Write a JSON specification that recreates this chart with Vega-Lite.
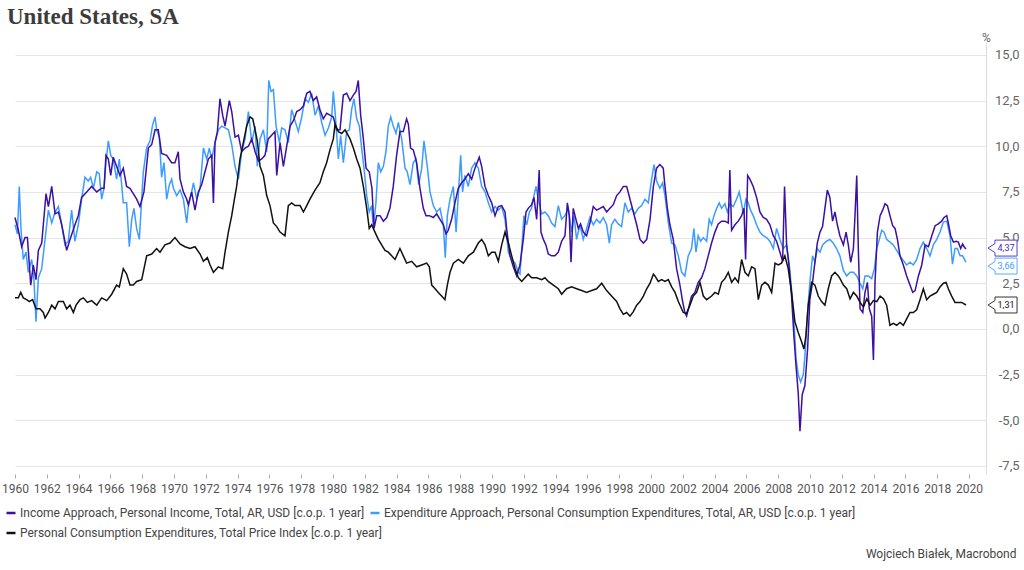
{
"$schema":"https://vega.github.io/schema/vega-lite/v6.json",
"width":971,"height":431,"autosize":"none",
"padding":{"left":15,"top":43,"right":38,"bottom":96},
"background":"white",
"config":{"locale":{"number":{"decimal":",","thousands":" ","grouping":[3],"currency":["",""],"minus":"-"}},"view":{"stroke":null},"font":"Roboto"},
"title":{"text":"United States, SA","anchor":"start","frame":"group","font":"Liberation Serif","fontSize":23,"fontWeight":"bold","color":"#3c3c3c","dx":-8,"dy":20,"offset":4,"baseline":"alphabetic"},
"datasets":{"d":[
{"s":"a","t":1960.00,"v":6.1},{"s":"a","t":1960.21,"v":5.4},{"s":"a","t":1960.42,"v":4.5},{"s":"a","t":1960.63,"v":5.0},{"s":"a","t":1960.78,"v":5.0},{"s":"a","t":1960.99,"v":2.4},{"s":"a","t":1961.15,"v":3.5},{"s":"a","t":1961.32,"v":2.7},{"s":"a","t":1961.47,"v":4.3},{"s":"a","t":1961.68,"v":4.7},{"s":"a","t":1961.95,"v":7.4},{"s":"a","t":1962.10,"v":6.7},{"s":"a","t":1962.31,"v":7.8},{"s":"a","t":1962.52,"v":6.3},{"s":"a","t":1962.73,"v":6.4},{"s":"a","t":1962.94,"v":5.7},{"s":"a","t":1963.25,"v":4.3},{"s":"a","t":1963.46,"v":4.9},{"s":"a","t":1963.77,"v":5.7},{"s":"a","t":1963.98,"v":6.2},{"s":"a","t":1964.19,"v":7.2},{"s":"a","t":1964.51,"v":7.5},{"s":"a","t":1964.82,"v":7.8},{"s":"a","t":1965.14,"v":7.5},{"s":"a","t":1965.45,"v":7.7},{"s":"a","t":1965.60,"v":7.7},{"s":"a","t":1965.72,"v":9.5},{"s":"a","t":1965.87,"v":9.3},{"s":"a","t":1966.02,"v":8.4},{"s":"a","t":1966.18,"v":9.4},{"s":"a","t":1966.39,"v":8.9},{"s":"a","t":1966.60,"v":8.4},{"s":"a","t":1966.81,"v":8.8},{"s":"a","t":1967.02,"v":7.8},{"s":"a","t":1967.23,"v":7.7},{"s":"a","t":1967.44,"v":7.4},{"s":"a","t":1967.65,"v":7.1},{"s":"a","t":1967.86,"v":6.7},{"s":"a","t":1968.11,"v":7.5},{"s":"a","t":1968.39,"v":9.9},{"s":"a","t":1968.60,"v":10.1},{"s":"a","t":1968.81,"v":10.9},{"s":"a","t":1969.01,"v":10.9},{"s":"a","t":1969.22,"v":9.6},{"s":"a","t":1969.54,"v":9.5},{"s":"a","t":1969.85,"v":9.1},{"s":"a","t":1970.06,"v":9.1},{"s":"a","t":1970.27,"v":9.7},{"s":"a","t":1970.38,"v":8.2},{"s":"a","t":1970.59,"v":7.5},{"s":"a","t":1970.80,"v":7.1},{"s":"a","t":1970.90,"v":6.8},{"s":"a","t":1971.11,"v":7.5},{"s":"a","t":1971.32,"v":6.5},{"s":"a","t":1971.53,"v":7.5},{"s":"a","t":1971.74,"v":7.9},{"s":"a","t":1971.95,"v":8.6},{"s":"a","t":1972.16,"v":9.3},{"s":"a","t":1972.37,"v":9.5},{"s":"a","t":1972.48,"v":6.9},{"s":"a","t":1972.58,"v":10.2},{"s":"a","t":1972.73,"v":10.8},{"s":"a","t":1972.89,"v":12.6},{"s":"a","t":1973.06,"v":11.7},{"s":"a","t":1973.21,"v":11.1},{"s":"a","t":1973.48,"v":12.5},{"s":"a","t":1973.63,"v":11.9},{"s":"a","t":1973.84,"v":10.5},{"s":"a","t":1974.05,"v":10.6},{"s":"a","t":1974.26,"v":9.7},{"s":"a","t":1974.47,"v":9.9},{"s":"a","t":1974.68,"v":10.0},{"s":"a","t":1974.89,"v":10.4},{"s":"a","t":1975.10,"v":9.7},{"s":"a","t":1975.31,"v":9.2},{"s":"a","t":1975.52,"v":9.3},{"s":"a","t":1975.72,"v":9.5},{"s":"a","t":1975.93,"v":10.4},{"s":"a","t":1976.14,"v":10.6},{"s":"a","t":1976.35,"v":10.8},{"s":"a","t":1976.46,"v":8.4},{"s":"a","t":1976.67,"v":10.2},{"s":"a","t":1976.88,"v":8.9},{"s":"a","t":1977.09,"v":10.0},{"s":"a","t":1977.30,"v":11.1},{"s":"a","t":1977.51,"v":11.4},{"s":"a","t":1977.72,"v":11.9},{"s":"a","t":1977.93,"v":12.0},{"s":"a","t":1978.14,"v":12.2},{"s":"a","t":1978.35,"v":12.9},{"s":"a","t":1978.55,"v":13.0},{"s":"a","t":1978.76,"v":12.5},{"s":"a","t":1978.97,"v":12.7},{"s":"a","t":1979.18,"v":12.0},{"s":"a","t":1979.39,"v":11.5},{"s":"a","t":1979.60,"v":11.8},{"s":"a","t":1979.81,"v":11.7},{"s":"a","t":1980.02,"v":11.6},{"s":"a","t":1980.23,"v":10.9},{"s":"a","t":1980.44,"v":10.9},{"s":"a","t":1980.65,"v":12.8},{"s":"a","t":1980.86,"v":12.9},{"s":"a","t":1981.07,"v":12.5},{"s":"a","t":1981.28,"v":12.8},{"s":"a","t":1981.45,"v":13.0},{"s":"a","t":1981.59,"v":13.6},{"s":"a","t":1981.74,"v":11.7},{"s":"a","t":1981.91,"v":10.4},{"s":"a","t":1982.08,"v":8.8},{"s":"a","t":1982.28,"v":8.6},{"s":"a","t":1982.45,"v":7.7},{"s":"a","t":1982.58,"v":5.5},{"s":"a","t":1982.75,"v":6.2},{"s":"a","t":1982.96,"v":6.2},{"s":"a","t":1983.17,"v":5.9},{"s":"a","t":1983.38,"v":6.1},{"s":"a","t":1983.58,"v":6.6},{"s":"a","t":1983.79,"v":7.8},{"s":"a","t":1984.00,"v":9.5},{"s":"a","t":1984.21,"v":10.8},{"s":"a","t":1984.42,"v":10.8},{"s":"a","t":1984.63,"v":11.5},{"s":"a","t":1984.74,"v":11.2},{"s":"a","t":1984.88,"v":9.9},{"s":"a","t":1985.05,"v":9.8},{"s":"a","t":1985.26,"v":9.1},{"s":"a","t":1985.47,"v":7.7},{"s":"a","t":1985.68,"v":6.6},{"s":"a","t":1985.85,"v":6.2},{"s":"a","t":1986.06,"v":6.2},{"s":"a","t":1986.31,"v":6.1},{"s":"a","t":1986.52,"v":6.3},{"s":"a","t":1986.73,"v":6.0},{"s":"a","t":1986.94,"v":5.7},{"s":"a","t":1987.11,"v":5.2},{"s":"a","t":1987.25,"v":5.4},{"s":"a","t":1987.46,"v":6.0},{"s":"a","t":1987.67,"v":6.9},{"s":"a","t":1987.88,"v":7.7},{"s":"a","t":1988.09,"v":8.0},{"s":"a","t":1988.30,"v":8.2},{"s":"a","t":1988.51,"v":8.5},{"s":"a","t":1988.72,"v":8.2},{"s":"a","t":1988.93,"v":8.8},{"s":"a","t":1989.20,"v":9.4},{"s":"a","t":1989.35,"v":8.9},{"s":"a","t":1989.56,"v":7.8},{"s":"a","t":1989.77,"v":7.3},{"s":"a","t":1989.98,"v":6.9},{"s":"a","t":1990.19,"v":6.2},{"s":"a","t":1990.40,"v":6.7},{"s":"a","t":1990.61,"v":6.75},{"s":"a","t":1990.82,"v":6.4},{"s":"a","t":1990.92,"v":5.5},{"s":"a","t":1991.13,"v":4.0},{"s":"a","t":1991.34,"v":3.4},{"s":"a","t":1991.55,"v":2.9},{"s":"a","t":1991.76,"v":3.5},{"s":"a","t":1991.97,"v":4.9},{"s":"a","t":1992.14,"v":6.4},{"s":"a","t":1992.28,"v":6.6},{"s":"a","t":1992.49,"v":6.8},{"s":"a","t":1992.64,"v":7.2},{"s":"a","t":1992.81,"v":6.0},{"s":"a","t":1992.97,"v":8.7},{"s":"a","t":1993.08,"v":5.3},{"s":"a","t":1993.23,"v":4.9},{"s":"a","t":1993.39,"v":4.6},{"s":"a","t":1993.54,"v":4.1},{"s":"a","t":1993.75,"v":4.0},{"s":"a","t":1993.96,"v":4.0},{"s":"a","t":1994.17,"v":4.2},{"s":"a","t":1994.38,"v":4.8},{"s":"a","t":1994.59,"v":5.1},{"s":"a","t":1994.74,"v":6.9},{"s":"a","t":1994.86,"v":6.2},{"s":"a","t":1994.97,"v":3.65},{"s":"a","t":1995.11,"v":6.6},{"s":"a","t":1995.28,"v":6.0},{"s":"a","t":1995.43,"v":5.5},{"s":"a","t":1995.57,"v":5.75},{"s":"a","t":1995.74,"v":5.3},{"s":"a","t":1995.95,"v":5.1},{"s":"a","t":1996.16,"v":5.8},{"s":"a","t":1996.37,"v":6.7},{"s":"a","t":1996.58,"v":6.5},{"s":"a","t":1996.79,"v":6.6},{"s":"a","t":1997.00,"v":6.7},{"s":"a","t":1997.21,"v":6.4},{"s":"a","t":1997.42,"v":6.6},{"s":"a","t":1997.63,"v":6.8},{"s":"a","t":1997.84,"v":7.3},{"s":"a","t":1998.05,"v":7.5},{"s":"a","t":1998.26,"v":7.8},{"s":"a","t":1998.47,"v":7.8},{"s":"a","t":1998.68,"v":7.1},{"s":"a","t":1998.89,"v":6.4},{"s":"a","t":1999.10,"v":5.7},{"s":"a","t":1999.31,"v":4.9},{"s":"a","t":1999.52,"v":4.7},{"s":"a","t":1999.73,"v":4.9},{"s":"a","t":1999.94,"v":6.0},{"s":"a","t":2000.15,"v":7.8},{"s":"a","t":2000.35,"v":8.8},{"s":"a","t":2000.56,"v":9.0},{"s":"a","t":2000.77,"v":8.8},{"s":"a","t":2000.88,"v":7.8},{"s":"a","t":2001.03,"v":6.6},{"s":"a","t":2001.19,"v":5.7},{"s":"a","t":2001.40,"v":4.9},{"s":"a","t":2001.61,"v":3.3},{"s":"a","t":2001.82,"v":2.4},{"s":"a","t":2001.99,"v":1.5},{"s":"a","t":2002.13,"v":0.9},{"s":"a","t":2002.24,"v":0.7},{"s":"a","t":2002.41,"v":1.3},{"s":"a","t":2002.55,"v":1.8},{"s":"a","t":2002.76,"v":2.0},{"s":"a","t":2002.97,"v":2.55},{"s":"a","t":2003.18,"v":2.8},{"s":"a","t":2003.39,"v":3.3},{"s":"a","t":2003.60,"v":4.0},{"s":"a","t":2003.81,"v":4.7},{"s":"a","t":2004.02,"v":5.3},{"s":"a","t":2004.23,"v":5.75},{"s":"a","t":2004.44,"v":5.9},{"s":"a","t":2004.65,"v":5.9},{"s":"a","t":2004.86,"v":5.8},{"s":"a","t":2004.96,"v":8.7},{"s":"a","t":2005.07,"v":5.4},{"s":"a","t":2005.28,"v":5.7},{"s":"a","t":2005.49,"v":5.9},{"s":"a","t":2005.70,"v":6.2},{"s":"a","t":2005.85,"v":6.6},{"s":"a","t":2005.95,"v":3.8},{"s":"a","t":2006.08,"v":8.4},{"s":"a","t":2006.22,"v":8.2},{"s":"a","t":2006.43,"v":7.8},{"s":"a","t":2006.64,"v":7.2},{"s":"a","t":2006.85,"v":6.4},{"s":"a","t":2007.06,"v":6.1},{"s":"a","t":2007.27,"v":6.0},{"s":"a","t":2007.48,"v":5.7},{"s":"a","t":2007.69,"v":5.1},{"s":"a","t":2007.90,"v":4.8},{"s":"a","t":2008.11,"v":4.2},{"s":"a","t":2008.28,"v":3.7},{"s":"a","t":2008.40,"v":7.8},{"s":"a","t":2008.53,"v":4.6},{"s":"a","t":2008.70,"v":3.3},{"s":"a","t":2008.84,"v":1.8},{"s":"a","t":2008.99,"v":-0.4},{"s":"a","t":2009.12,"v":-2.0},{"s":"a","t":2009.26,"v":-3.5},{"s":"a","t":2009.37,"v":-5.6},{"s":"a","t":2009.51,"v":-3.6},{"s":"a","t":2009.68,"v":-3.1},{"s":"a","t":2009.85,"v":-1.1},{"s":"a","t":2009.99,"v":1.6},{"s":"a","t":2010.16,"v":2.55},{"s":"a","t":2010.31,"v":3.65},{"s":"a","t":2010.46,"v":4.7},{"s":"a","t":2010.63,"v":5.3},{"s":"a","t":2010.79,"v":5.6},{"s":"a","t":2010.94,"v":6.6},{"s":"a","t":2011.09,"v":7.6},{"s":"a","t":2011.25,"v":7.2},{"s":"a","t":2011.42,"v":5.9},{"s":"a","t":2011.57,"v":6.4},{"s":"a","t":2011.72,"v":5.7},{"s":"a","t":2011.88,"v":5.1},{"s":"a","t":2012.10,"v":4.6},{"s":"a","t":2012.27,"v":5.3},{"s":"a","t":2012.41,"v":4.6},{"s":"a","t":2012.56,"v":3.65},{"s":"a","t":2012.73,"v":4.4},{"s":"a","t":2012.83,"v":6.2},{"s":"a","t":2012.94,"v":8.4},{"s":"a","t":2013.04,"v":4.4},{"s":"a","t":2013.15,"v":1.1},{"s":"a","t":2013.32,"v":0.9},{"s":"a","t":2013.46,"v":2.0},{"s":"a","t":2013.61,"v":2.55},{"s":"a","t":2013.73,"v":1.1},{"s":"a","t":2013.88,"v":0.7},{"s":"a","t":2013.99,"v":-1.7},{"s":"a","t":2014.09,"v":2.55},{"s":"a","t":2014.24,"v":5.3},{"s":"a","t":2014.41,"v":6.2},{"s":"a","t":2014.57,"v":6.5},{"s":"a","t":2014.72,"v":6.85},{"s":"a","t":2014.87,"v":6.75},{"s":"a","t":2015.03,"v":6.2},{"s":"a","t":2015.20,"v":5.65},{"s":"a","t":2015.35,"v":5.5},{"s":"a","t":2015.50,"v":4.9},{"s":"a","t":2015.66,"v":4.0},{"s":"a","t":2015.87,"v":3.5},{"s":"a","t":2016.08,"v":2.9},{"s":"a","t":2016.29,"v":2.4},{"s":"a","t":2016.46,"v":2.0},{"s":"a","t":2016.61,"v":2.1},{"s":"a","t":2016.82,"v":2.9},{"s":"a","t":2017.03,"v":3.5},{"s":"a","t":2017.24,"v":4.6},{"s":"a","t":2017.45,"v":4.5},{"s":"a","t":2017.66,"v":5.1},{"s":"a","t":2017.87,"v":5.65},{"s":"a","t":2018.07,"v":5.75},{"s":"a","t":2018.28,"v":5.9},{"s":"a","t":2018.43,"v":6.1},{"s":"a","t":2018.60,"v":6.2},{"s":"a","t":2018.70,"v":5.8},{"s":"a","t":2018.85,"v":5.1},{"s":"a","t":2019.02,"v":4.75},{"s":"a","t":2019.19,"v":4.8},{"s":"a","t":2019.33,"v":4.75},{"s":"a","t":2019.48,"v":4.4},{"s":"a","t":2019.60,"v":4.65},{"s":"a","t":2019.69,"v":4.5},{"s":"a","t":2019.81,"v":4.37},
{"s":"b","t":1960.00,"v":5.7},{"s":"b","t":1960.15,"v":5.2},{"s":"b","t":1960.27,"v":7.8},{"s":"b","t":1960.38,"v":5.4},{"s":"b","t":1960.52,"v":3.8},{"s":"b","t":1960.69,"v":4.2},{"s":"b","t":1960.84,"v":3.1},{"s":"b","t":1961.05,"v":3.8},{"s":"b","t":1961.19,"v":2.7},{"s":"b","t":1961.32,"v":0.4},{"s":"b","t":1961.47,"v":2.8},{"s":"b","t":1961.68,"v":3.3},{"s":"b","t":1961.89,"v":4.9},{"s":"b","t":1962.10,"v":6.5},{"s":"b","t":1962.31,"v":5.8},{"s":"b","t":1962.52,"v":6.4},{"s":"b","t":1962.73,"v":6.7},{"s":"b","t":1962.94,"v":5.7},{"s":"b","t":1963.14,"v":4.6},{"s":"b","t":1963.35,"v":4.8},{"s":"b","t":1963.56,"v":6.5},{"s":"b","t":1963.77,"v":4.8},{"s":"b","t":1963.98,"v":5.7},{"s":"b","t":1964.19,"v":7.1},{"s":"b","t":1964.40,"v":8.3},{"s":"b","t":1964.61,"v":8.1},{"s":"b","t":1964.76,"v":8.3},{"s":"b","t":1964.93,"v":7.7},{"s":"b","t":1965.14,"v":8.6},{"s":"b","t":1965.30,"v":8.5},{"s":"b","t":1965.45,"v":7.1},{"s":"b","t":1965.60,"v":7.7},{"s":"b","t":1965.72,"v":9.1},{"s":"b","t":1965.87,"v":10.3},{"s":"b","t":1966.02,"v":9.5},{"s":"b","t":1966.18,"v":9.3},{"s":"b","t":1966.39,"v":8.2},{"s":"b","t":1966.56,"v":9.3},{"s":"b","t":1966.81,"v":6.9},{"s":"b","t":1967.02,"v":6.9},{"s":"b","t":1967.19,"v":4.5},{"s":"b","t":1967.34,"v":6.0},{"s":"b","t":1967.48,"v":6.6},{"s":"b","t":1967.65,"v":5.5},{"s":"b","t":1967.82,"v":4.9},{"s":"b","t":1968.07,"v":8.6},{"s":"b","t":1968.28,"v":9.9},{"s":"b","t":1968.49,"v":10.3},{"s":"b","t":1968.66,"v":11.2},{"s":"b","t":1968.81,"v":11.6},{"s":"b","t":1968.91,"v":10.9},{"s":"b","t":1969.08,"v":10.5},{"s":"b","t":1969.22,"v":8.3},{"s":"b","t":1969.37,"v":9.1},{"s":"b","t":1969.54,"v":7.1},{"s":"b","t":1969.71,"v":7.9},{"s":"b","t":1969.85,"v":8.2},{"s":"b","t":1969.96,"v":7.7},{"s":"b","t":1970.17,"v":7.3},{"s":"b","t":1970.38,"v":7.6},{"s":"b","t":1970.59,"v":7.1},{"s":"b","t":1970.80,"v":5.8},{"s":"b","t":1970.90,"v":6.7},{"s":"b","t":1971.11,"v":7.5},{"s":"b","t":1971.22,"v":8.0},{"s":"b","t":1971.43,"v":7.1},{"s":"b","t":1971.64,"v":7.7},{"s":"b","t":1971.85,"v":9.9},{"s":"b","t":1972.06,"v":9.3},{"s":"b","t":1972.22,"v":9.9},{"s":"b","t":1972.37,"v":9.3},{"s":"b","t":1972.58,"v":10.2},{"s":"b","t":1972.79,"v":10.9},{"s":"b","t":1973.00,"v":11.1},{"s":"b","t":1973.21,"v":11.0},{"s":"b","t":1973.42,"v":10.9},{"s":"b","t":1973.63,"v":10.1},{"s":"b","t":1973.84,"v":8.9},{"s":"b","t":1974.05,"v":8.2},{"s":"b","t":1974.26,"v":9.7},{"s":"b","t":1974.47,"v":10.4},{"s":"b","t":1974.68,"v":11.9},{"s":"b","t":1974.89,"v":10.2},{"s":"b","t":1975.10,"v":11.1},{"s":"b","t":1975.24,"v":8.9},{"s":"b","t":1975.41,"v":10.4},{"s":"b","t":1975.62,"v":10.9},{"s":"b","t":1975.83,"v":9.7},{"s":"b","t":1975.96,"v":13.6},{"s":"b","t":1976.10,"v":13.0},{"s":"b","t":1976.25,"v":13.1},{"s":"b","t":1976.42,"v":11.1},{"s":"b","t":1976.63,"v":10.2},{"s":"b","t":1976.77,"v":11.0},{"s":"b","t":1976.98,"v":10.9},{"s":"b","t":1977.19,"v":10.2},{"s":"b","t":1977.40,"v":12.0},{"s":"b","t":1977.61,"v":11.4},{"s":"b","t":1977.82,"v":10.8},{"s":"b","t":1978.03,"v":11.6},{"s":"b","t":1978.24,"v":12.6},{"s":"b","t":1978.45,"v":12.4},{"s":"b","t":1978.66,"v":12.9},{"s":"b","t":1978.87,"v":11.7},{"s":"b","t":1979.08,"v":12.2},{"s":"b","t":1979.29,"v":11.3},{"s":"b","t":1979.50,"v":10.6},{"s":"b","t":1979.71,"v":11.0},{"s":"b","t":1979.92,"v":11.6},{"s":"b","t":1980.02,"v":13.0},{"s":"b","t":1980.13,"v":11.9},{"s":"b","t":1980.34,"v":9.3},{"s":"b","t":1980.48,"v":10.6},{"s":"b","t":1980.65,"v":9.1},{"s":"b","t":1980.86,"v":10.8},{"s":"b","t":1981.03,"v":10.9},{"s":"b","t":1981.17,"v":12.0},{"s":"b","t":1981.32,"v":12.6},{"s":"b","t":1981.49,"v":11.5},{"s":"b","t":1981.66,"v":11.1},{"s":"b","t":1981.80,"v":9.9},{"s":"b","t":1981.95,"v":8.8},{"s":"b","t":1982.12,"v":7.3},{"s":"b","t":1982.28,"v":6.4},{"s":"b","t":1982.43,"v":6.75},{"s":"b","t":1982.54,"v":5.5},{"s":"b","t":1982.70,"v":6.9},{"s":"b","t":1982.85,"v":9.1},{"s":"b","t":1983.00,"v":8.6},{"s":"b","t":1983.17,"v":8.9},{"s":"b","t":1983.33,"v":9.7},{"s":"b","t":1983.48,"v":11.1},{"s":"b","t":1983.63,"v":11.6},{"s":"b","t":1983.79,"v":11.1},{"s":"b","t":1983.96,"v":10.7},{"s":"b","t":1984.11,"v":11.3},{"s":"b","t":1984.32,"v":10.4},{"s":"b","t":1984.53,"v":8.8},{"s":"b","t":1984.67,"v":8.6},{"s":"b","t":1984.84,"v":7.9},{"s":"b","t":1985.05,"v":9.1},{"s":"b","t":1985.22,"v":9.3},{"s":"b","t":1985.39,"v":7.9},{"s":"b","t":1985.58,"v":8.8},{"s":"b","t":1985.72,"v":10.3},{"s":"b","t":1985.93,"v":8.9},{"s":"b","t":1986.10,"v":7.5},{"s":"b","t":1986.31,"v":6.75},{"s":"b","t":1986.52,"v":6.4},{"s":"b","t":1986.73,"v":6.6},{"s":"b","t":1986.94,"v":5.7},{"s":"b","t":1987.06,"v":3.9},{"s":"b","t":1987.19,"v":6.2},{"s":"b","t":1987.36,"v":7.1},{"s":"b","t":1987.57,"v":7.8},{"s":"b","t":1987.74,"v":5.3},{"s":"b","t":1987.88,"v":7.3},{"s":"b","t":1988.03,"v":9.5},{"s":"b","t":1988.15,"v":7.5},{"s":"b","t":1988.30,"v":8.4},{"s":"b","t":1988.51,"v":7.8},{"s":"b","t":1988.72,"v":8.8},{"s":"b","t":1988.93,"v":9.1},{"s":"b","t":1989.14,"v":8.8},{"s":"b","t":1989.35,"v":7.8},{"s":"b","t":1989.56,"v":7.5},{"s":"b","t":1989.77,"v":6.9},{"s":"b","t":1989.98,"v":6.4},{"s":"b","t":1990.19,"v":6.7},{"s":"b","t":1990.40,"v":6.5},{"s":"b","t":1990.61,"v":6.7},{"s":"b","t":1990.82,"v":6.0},{"s":"b","t":1991.03,"v":4.2},{"s":"b","t":1991.24,"v":3.8},{"s":"b","t":1991.45,"v":3.6},{"s":"b","t":1991.66,"v":3.1},{"s":"b","t":1991.76,"v":3.0},{"s":"b","t":1992.01,"v":6.2},{"s":"b","t":1992.18,"v":5.7},{"s":"b","t":1992.35,"v":6.4},{"s":"b","t":1992.49,"v":6.6},{"s":"b","t":1992.64,"v":7.3},{"s":"b","t":1992.77,"v":7.8},{"s":"b","t":1992.91,"v":7.1},{"s":"b","t":1993.12,"v":6.3},{"s":"b","t":1993.33,"v":6.4},{"s":"b","t":1993.54,"v":6.2},{"s":"b","t":1993.75,"v":5.8},{"s":"b","t":1993.96,"v":5.6},{"s":"b","t":1994.17,"v":6.75},{"s":"b","t":1994.38,"v":6.0},{"s":"b","t":1994.59,"v":6.2},{"s":"b","t":1994.80,"v":6.6},{"s":"b","t":1995.01,"v":5.3},{"s":"b","t":1995.16,"v":6.2},{"s":"b","t":1995.32,"v":4.9},{"s":"b","t":1995.53,"v":5.7},{"s":"b","t":1995.74,"v":4.9},{"s":"b","t":1995.95,"v":5.5},{"s":"b","t":1996.16,"v":6.1},{"s":"b","t":1996.37,"v":5.7},{"s":"b","t":1996.58,"v":6.0},{"s":"b","t":1996.79,"v":5.8},{"s":"b","t":1997.00,"v":6.1},{"s":"b","t":1997.21,"v":5.7},{"s":"b","t":1997.38,"v":4.7},{"s":"b","t":1997.52,"v":5.7},{"s":"b","t":1997.73,"v":6.0},{"s":"b","t":1997.94,"v":5.75},{"s":"b","t":1998.15,"v":5.6},{"s":"b","t":1998.36,"v":6.9},{"s":"b","t":1998.57,"v":6.4},{"s":"b","t":1998.78,"v":6.6},{"s":"b","t":1998.99,"v":6.3},{"s":"b","t":1999.20,"v":6.6},{"s":"b","t":1999.41,"v":6.75},{"s":"b","t":1999.62,"v":7.1},{"s":"b","t":1999.83,"v":6.9},{"s":"b","t":2000.04,"v":8.2},{"s":"b","t":2000.19,"v":9.0},{"s":"b","t":2000.35,"v":8.1},{"s":"b","t":2000.56,"v":7.7},{"s":"b","t":2000.73,"v":8.0},{"s":"b","t":2000.88,"v":7.3},{"s":"b","t":2001.09,"v":5.8},{"s":"b","t":2001.30,"v":4.7},{"s":"b","t":2001.51,"v":4.6},{"s":"b","t":2001.72,"v":4.0},{"s":"b","t":2001.93,"v":3.1},{"s":"b","t":2002.13,"v":2.9},{"s":"b","t":2002.34,"v":4.0},{"s":"b","t":2002.55,"v":4.4},{"s":"b","t":2002.70,"v":5.5},{"s":"b","t":2002.83,"v":4.2},{"s":"b","t":2002.97,"v":5.1},{"s":"b","t":2003.12,"v":4.8},{"s":"b","t":2003.29,"v":5.0},{"s":"b","t":2003.50,"v":4.8},{"s":"b","t":2003.66,"v":6.0},{"s":"b","t":2003.81,"v":5.7},{"s":"b","t":2003.96,"v":6.2},{"s":"b","t":2004.13,"v":6.6},{"s":"b","t":2004.29,"v":6.9},{"s":"b","t":2004.44,"v":6.6},{"s":"b","t":2004.65,"v":6.85},{"s":"b","t":2004.80,"v":6.4},{"s":"b","t":2004.96,"v":6.85},{"s":"b","t":2005.17,"v":6.7},{"s":"b","t":2005.38,"v":7.1},{"s":"b","t":2005.55,"v":7.5},{"s":"b","t":2005.70,"v":6.85},{"s":"b","t":2005.80,"v":6.3},{"s":"b","t":2005.97,"v":7.1},{"s":"b","t":2006.12,"v":6.9},{"s":"b","t":2006.26,"v":6.5},{"s":"b","t":2006.43,"v":6.2},{"s":"b","t":2006.64,"v":5.7},{"s":"b","t":2006.85,"v":5.3},{"s":"b","t":2007.06,"v":5.1},{"s":"b","t":2007.27,"v":5.0},{"s":"b","t":2007.48,"v":4.8},{"s":"b","t":2007.69,"v":4.4},{"s":"b","t":2007.90,"v":5.5},{"s":"b","t":2008.11,"v":4.9},{"s":"b","t":2008.32,"v":4.4},{"s":"b","t":2008.53,"v":4.6},{"s":"b","t":2008.70,"v":3.5},{"s":"b","t":2008.84,"v":2.2},{"s":"b","t":2008.99,"v":0.4},{"s":"b","t":2009.12,"v":-1.6},{"s":"b","t":2009.26,"v":-2.5},{"s":"b","t":2009.41,"v":-2.9},{"s":"b","t":2009.58,"v":-2.5},{"s":"b","t":2009.68,"v":-1.5},{"s":"b","t":2009.83,"v":0.7},{"s":"b","t":2009.99,"v":2.55},{"s":"b","t":2010.16,"v":4.0},{"s":"b","t":2010.31,"v":3.65},{"s":"b","t":2010.46,"v":4.4},{"s":"b","t":2010.63,"v":4.2},{"s":"b","t":2010.79,"v":4.6},{"s":"b","t":2011.04,"v":4.8},{"s":"b","t":2011.25,"v":4.9},{"s":"b","t":2011.46,"v":4.7},{"s":"b","t":2011.67,"v":4.4},{"s":"b","t":2011.88,"v":4.0},{"s":"b","t":2012.10,"v":3.2},{"s":"b","t":2012.31,"v":2.9},{"s":"b","t":2012.52,"v":3.1},{"s":"b","t":2012.73,"v":3.1},{"s":"b","t":2012.94,"v":2.9},{"s":"b","t":2013.15,"v":2.5},{"s":"b","t":2013.32,"v":2.2},{"s":"b","t":2013.46,"v":2.9},{"s":"b","t":2013.67,"v":2.9},{"s":"b","t":2013.88,"v":2.75},{"s":"b","t":2014.05,"v":3.3},{"s":"b","t":2014.20,"v":4.4},{"s":"b","t":2014.36,"v":4.9},{"s":"b","t":2014.51,"v":5.4},{"s":"b","t":2014.66,"v":5.3},{"s":"b","t":2014.82,"v":4.9},{"s":"b","t":2015.03,"v":4.75},{"s":"b","t":2015.24,"v":4.6},{"s":"b","t":2015.45,"v":4.3},{"s":"b","t":2015.66,"v":4.0},{"s":"b","t":2015.87,"v":3.75},{"s":"b","t":2016.08,"v":3.5},{"s":"b","t":2016.29,"v":3.65},{"s":"b","t":2016.50,"v":3.5},{"s":"b","t":2016.71,"v":3.8},{"s":"b","t":2016.92,"v":4.4},{"s":"b","t":2017.13,"v":4.75},{"s":"b","t":2017.34,"v":4.4},{"s":"b","t":2017.55,"v":4.0},{"s":"b","t":2017.76,"v":4.6},{"s":"b","t":2017.97,"v":4.9},{"s":"b","t":2018.18,"v":5.3},{"s":"b","t":2018.39,"v":5.85},{"s":"b","t":2018.60,"v":5.9},{"s":"b","t":2018.81,"v":5.1},{"s":"b","t":2018.96,"v":3.55},{"s":"b","t":2019.12,"v":4.4},{"s":"b","t":2019.27,"v":4.4},{"s":"b","t":2019.44,"v":4.0},{"s":"b","t":2019.60,"v":4.0},{"s":"b","t":2019.81,"v":3.66},
{"s":"c","t":1960.00,"v":1.7},{"s":"c","t":1960.21,"v":1.7},{"s":"c","t":1960.36,"v":2.0},{"s":"c","t":1960.52,"v":1.7},{"s":"c","t":1960.73,"v":1.6},{"s":"c","t":1960.90,"v":1.5},{"s":"c","t":1961.11,"v":1.6},{"s":"c","t":1961.32,"v":1.1},{"s":"c","t":1961.57,"v":1.1},{"s":"c","t":1961.78,"v":0.9},{"s":"c","t":1961.89,"v":0.6},{"s":"c","t":1962.10,"v":0.9},{"s":"c","t":1962.31,"v":1.3},{"s":"c","t":1962.52,"v":1.1},{"s":"c","t":1962.73,"v":1.5},{"s":"c","t":1963.04,"v":1.5},{"s":"c","t":1963.25,"v":1.1},{"s":"c","t":1963.46,"v":1.3},{"s":"c","t":1963.67,"v":0.9},{"s":"c","t":1963.84,"v":1.3},{"s":"c","t":1964.09,"v":1.6},{"s":"c","t":1964.30,"v":1.7},{"s":"c","t":1964.55,"v":1.45},{"s":"c","t":1964.82,"v":1.55},{"s":"c","t":1965.14,"v":1.3},{"s":"c","t":1965.45,"v":1.7},{"s":"c","t":1965.77,"v":1.55},{"s":"c","t":1966.08,"v":1.9},{"s":"c","t":1966.39,"v":2.4},{"s":"c","t":1966.56,"v":2.3},{"s":"c","t":1966.81,"v":3.3},{"s":"c","t":1967.02,"v":3.0},{"s":"c","t":1967.23,"v":2.4},{"s":"c","t":1967.44,"v":2.4},{"s":"c","t":1967.65,"v":2.6},{"s":"c","t":1967.97,"v":2.7},{"s":"c","t":1968.28,"v":4.0},{"s":"c","t":1968.60,"v":4.1},{"s":"c","t":1968.91,"v":4.4},{"s":"c","t":1969.12,"v":4.2},{"s":"c","t":1969.43,"v":4.6},{"s":"c","t":1969.75,"v":4.7},{"s":"c","t":1970.06,"v":5.0},{"s":"c","t":1970.38,"v":4.65},{"s":"c","t":1970.69,"v":4.5},{"s":"c","t":1971.01,"v":4.4},{"s":"c","t":1971.32,"v":4.5},{"s":"c","t":1971.64,"v":4.1},{"s":"c","t":1971.85,"v":3.7},{"s":"c","t":1972.10,"v":3.9},{"s":"c","t":1972.27,"v":3.5},{"s":"c","t":1972.48,"v":3.1},{"s":"c","t":1972.79,"v":3.4},{"s":"c","t":1973.06,"v":3.3},{"s":"c","t":1973.21,"v":4.2},{"s":"c","t":1973.42,"v":5.3},{"s":"c","t":1973.63,"v":6.2},{"s":"c","t":1973.80,"v":7.1},{"s":"c","t":1973.94,"v":7.8},{"s":"c","t":1974.15,"v":9.3},{"s":"c","t":1974.36,"v":10.2},{"s":"c","t":1974.57,"v":11.1},{"s":"c","t":1974.78,"v":11.6},{"s":"c","t":1974.95,"v":11.5},{"s":"c","t":1975.10,"v":10.9},{"s":"c","t":1975.24,"v":10.3},{"s":"c","t":1975.41,"v":8.9},{"s":"c","t":1975.62,"v":8.4},{"s":"c","t":1975.83,"v":7.3},{"s":"c","t":1976.04,"v":6.75},{"s":"c","t":1976.25,"v":5.8},{"s":"c","t":1976.46,"v":5.6},{"s":"c","t":1976.67,"v":5.3},{"s":"c","t":1976.98,"v":5.1},{"s":"c","t":1977.19,"v":6.75},{"s":"c","t":1977.40,"v":6.9},{"s":"c","t":1977.61,"v":6.75},{"s":"c","t":1977.93,"v":6.75},{"s":"c","t":1978.14,"v":6.4},{"s":"c","t":1978.35,"v":6.75},{"s":"c","t":1978.55,"v":7.1},{"s":"c","t":1978.87,"v":7.6},{"s":"c","t":1979.18,"v":8.0},{"s":"c","t":1979.39,"v":8.6},{"s":"c","t":1979.60,"v":9.1},{"s":"c","t":1979.81,"v":9.8},{"s":"c","t":1980.02,"v":10.4},{"s":"c","t":1980.13,"v":11.2},{"s":"c","t":1980.34,"v":10.8},{"s":"c","t":1980.55,"v":10.7},{"s":"c","t":1980.76,"v":10.9},{"s":"c","t":1981.07,"v":10.4},{"s":"c","t":1981.28,"v":9.9},{"s":"c","t":1981.49,"v":9.3},{"s":"c","t":1981.70,"v":8.8},{"s":"c","t":1981.91,"v":7.8},{"s":"c","t":1982.12,"v":6.6},{"s":"c","t":1982.28,"v":5.5},{"s":"c","t":1982.43,"v":5.7},{"s":"c","t":1982.64,"v":5.3},{"s":"c","t":1982.85,"v":4.9},{"s":"c","t":1983.06,"v":4.6},{"s":"c","t":1983.27,"v":4.3},{"s":"c","t":1983.48,"v":4.2},{"s":"c","t":1983.69,"v":4.0},{"s":"c","t":1983.90,"v":3.8},{"s":"c","t":1984.21,"v":4.4},{"s":"c","t":1984.42,"v":4.0},{"s":"c","t":1984.63,"v":3.6},{"s":"c","t":1984.95,"v":3.7},{"s":"c","t":1985.26,"v":3.4},{"s":"c","t":1985.58,"v":3.5},{"s":"c","t":1985.89,"v":3.6},{"s":"c","t":1986.06,"v":3.4},{"s":"c","t":1986.21,"v":2.4},{"s":"c","t":1986.42,"v":2.2},{"s":"c","t":1986.62,"v":2.0},{"s":"c","t":1986.83,"v":1.8},{"s":"c","t":1987.04,"v":1.6},{"s":"c","t":1987.19,"v":2.4},{"s":"c","t":1987.36,"v":3.1},{"s":"c","t":1987.57,"v":3.6},{"s":"c","t":1987.88,"v":3.8},{"s":"c","t":1988.20,"v":3.6},{"s":"c","t":1988.51,"v":4.0},{"s":"c","t":1988.83,"v":4.2},{"s":"c","t":1989.14,"v":4.7},{"s":"c","t":1989.35,"v":4.9},{"s":"c","t":1989.56,"v":4.6},{"s":"c","t":1989.77,"v":4.0},{"s":"c","t":1989.98,"v":4.2},{"s":"c","t":1990.19,"v":4.2},{"s":"c","t":1990.40,"v":3.7},{"s":"c","t":1990.61,"v":4.6},{"s":"c","t":1990.82,"v":5.3},{"s":"c","t":1991.03,"v":4.7},{"s":"c","t":1991.24,"v":4.0},{"s":"c","t":1991.45,"v":3.3},{"s":"c","t":1991.66,"v":2.8},{"s":"c","t":1991.87,"v":2.6},{"s":"c","t":1992.07,"v":2.8},{"s":"c","t":1992.28,"v":3.0},{"s":"c","t":1992.49,"v":2.8},{"s":"c","t":1992.81,"v":2.8},{"s":"c","t":1993.12,"v":2.7},{"s":"c","t":1993.33,"v":2.8},{"s":"c","t":1993.54,"v":2.6},{"s":"c","t":1993.86,"v":2.4},{"s":"c","t":1994.17,"v":2.2},{"s":"c","t":1994.38,"v":1.9},{"s":"c","t":1994.69,"v":2.2},{"s":"c","t":1995.01,"v":2.3},{"s":"c","t":1995.32,"v":2.2},{"s":"c","t":1995.64,"v":2.1},{"s":"c","t":1995.95,"v":2.0},{"s":"c","t":1996.27,"v":2.1},{"s":"c","t":1996.58,"v":2.2},{"s":"c","t":1996.90,"v":2.5},{"s":"c","t":1997.21,"v":2.1},{"s":"c","t":1997.52,"v":1.8},{"s":"c","t":1997.84,"v":1.5},{"s":"c","t":1998.05,"v":1.1},{"s":"c","t":1998.26,"v":0.8},{"s":"c","t":1998.47,"v":0.9},{"s":"c","t":1998.68,"v":0.7},{"s":"c","t":1998.89,"v":0.95},{"s":"c","t":1999.10,"v":1.3},{"s":"c","t":1999.31,"v":1.5},{"s":"c","t":1999.52,"v":1.8},{"s":"c","t":1999.73,"v":2.2},{"s":"c","t":1999.94,"v":2.5},{"s":"c","t":2000.15,"v":3.0},{"s":"c","t":2000.25,"v":2.9},{"s":"c","t":2000.46,"v":2.6},{"s":"c","t":2000.67,"v":2.7},{"s":"c","t":2000.88,"v":2.6},{"s":"c","t":2001.09,"v":2.7},{"s":"c","t":2001.30,"v":2.3},{"s":"c","t":2001.51,"v":2.0},{"s":"c","t":2001.72,"v":1.5},{"s":"c","t":2002.03,"v":0.9},{"s":"c","t":2002.24,"v":0.85},{"s":"c","t":2002.45,"v":1.3},{"s":"c","t":2002.66,"v":1.8},{"s":"c","t":2002.87,"v":2.0},{"s":"c","t":2003.08,"v":2.55},{"s":"c","t":2003.29,"v":1.8},{"s":"c","t":2003.50,"v":1.6},{"s":"c","t":2003.81,"v":1.8},{"s":"c","t":2004.02,"v":2.0},{"s":"c","t":2004.23,"v":1.9},{"s":"c","t":2004.44,"v":2.55},{"s":"c","t":2004.65,"v":2.75},{"s":"c","t":2004.86,"v":3.1},{"s":"c","t":2005.07,"v":2.55},{"s":"c","t":2005.28,"v":2.8},{"s":"c","t":2005.49,"v":2.55},{"s":"c","t":2005.70,"v":3.8},{"s":"c","t":2005.91,"v":3.1},{"s":"c","t":2006.12,"v":2.9},{"s":"c","t":2006.33,"v":3.4},{"s":"c","t":2006.54,"v":3.3},{"s":"c","t":2006.75,"v":1.6},{"s":"c","t":2006.96,"v":2.4},{"s":"c","t":2007.17,"v":2.55},{"s":"c","t":2007.38,"v":2.4},{"s":"c","t":2007.59,"v":2.0},{"s":"c","t":2007.80,"v":3.6},{"s":"c","t":2008.00,"v":3.5},{"s":"c","t":2008.21,"v":3.6},{"s":"c","t":2008.42,"v":4.0},{"s":"c","t":2008.63,"v":3.3},{"s":"c","t":2008.84,"v":2.0},{"s":"c","t":2009.05,"v":0.4},{"s":"c","t":2009.26,"v":-0.2},{"s":"c","t":2009.47,"v":-0.7},{"s":"c","t":2009.62,"v":-1.1},{"s":"c","t":2009.74,"v":-0.4},{"s":"c","t":2009.89,"v":1.3},{"s":"c","t":2010.10,"v":2.55},{"s":"c","t":2010.31,"v":2.4},{"s":"c","t":2010.52,"v":1.8},{"s":"c","t":2010.73,"v":1.5},{"s":"c","t":2010.94,"v":1.3},{"s":"c","t":2011.15,"v":2.2},{"s":"c","t":2011.36,"v":2.9},{"s":"c","t":2011.57,"v":3.1},{"s":"c","t":2011.78,"v":2.9},{"s":"c","t":2011.89,"v":2.75},{"s":"c","t":2012.10,"v":2.4},{"s":"c","t":2012.31,"v":2.2},{"s":"c","t":2012.52,"v":1.65},{"s":"c","t":2012.73,"v":2.0},{"s":"c","t":2012.94,"v":1.8},{"s":"c","t":2013.15,"v":1.45},{"s":"c","t":2013.36,"v":1.2},{"s":"c","t":2013.57,"v":1.65},{"s":"c","t":2013.78,"v":1.3},{"s":"c","t":2013.99,"v":1.55},{"s":"c","t":2014.20,"v":1.5},{"s":"c","t":2014.41,"v":1.8},{"s":"c","t":2014.62,"v":1.65},{"s":"c","t":2014.82,"v":1.3},{"s":"c","t":2015.03,"v":0.2},{"s":"c","t":2015.24,"v":0.3},{"s":"c","t":2015.45,"v":0.2},{"s":"c","t":2015.66,"v":0.35},{"s":"c","t":2015.87,"v":0.2},{"s":"c","t":2016.08,"v":0.55},{"s":"c","t":2016.29,"v":0.9},{"s":"c","t":2016.50,"v":0.9},{"s":"c","t":2016.71,"v":1.05},{"s":"c","t":2016.92,"v":1.6},{"s":"c","t":2017.13,"v":2.2},{"s":"c","t":2017.34,"v":1.6},{"s":"c","t":2017.55,"v":1.8},{"s":"c","t":2017.76,"v":1.9},{"s":"c","t":2017.97,"v":2.0},{"s":"c","t":2018.18,"v":2.3},{"s":"c","t":2018.39,"v":2.5},{"s":"c","t":2018.56,"v":2.55},{"s":"c","t":2018.70,"v":2.2},{"s":"c","t":2018.91,"v":1.8},{"s":"c","t":2019.12,"v":1.45},{"s":"c","t":2019.33,"v":1.45},{"s":"c","t":2019.54,"v":1.45},{"s":"c","t":2019.81,"v":1.31}
]},
"data":{"name":"d"},
"encoding":{
  "x":{"field":"t","type":"quantitative","scale":{"domain":[1960,2021.07],"nice":false,"zero":false},
   "axis":{"values":[1960,1962,1964,1966,1968,1970,1972,1974,1976,1978,1980,1982,1984,1986,1988,1990,1992,1994,1996,1998,2000,2002,2004,2006,2008,2010,2012,2014,2016,2018,2020],"format":"d","grid":false,"domain":false,"ticks":true,"tickSize":4,"tickColor":"#aaaaaa","labelFlush":false,"labelOverlap":false,"labelPadding":5,"labelFont":"Roboto","labelFontSize":12,"labelColor":"#555555",
    "title":"Wojciech Białek, Macrobond","titleX":1001,"titleY":79,"titleAlign":"right","titleBaseline":"middle","titleFont":"Roboto","titleFontSize":12,"titleFontWeight":"normal","titleColor":"#444444"}},
  "y":{"field":"v","type":"quantitative","scale":{"domain":[-7.94,15.65],"nice":false,"zero":false},
   "axis":{"orient":"right","values":[-7.5,-5,-2.5,0,2.5,5,7.5,10,12.5,15],"format":".1f","grid":true,"gridColor":"#e6e6e6","domain":true,"domainColor":"#dddddd","ticks":false,"tickSize":0,"labelAlign":"right","labelPadding":33,"labelFont":"Roboto","labelFontSize":13,"labelColor":"#666666",
    "title":"%","titleAngle":0,"titleX":0,"titleY":1,"titleAlign":"center","titleBaseline":"bottom","titleFont":"Roboto","titleFontSize":12,"titleFontWeight":"normal","titleColor":"#666666"}}
},
"layer":[
{"transform":[{"filter":"datum.s == 'b'"}],
 "mark":{"type":"line","strokeWidth":1.5},
 "encoding":{
  "color":{"field":"s","type":"nominal","scale":{"domain":["a","b","c"],"range":["#3b10a3","#3d9cff","#111111"]},
   "legend":{"values":["a","b"],"orient":"none","legendX":-10,"legendY":464,"direction":"horizontal","title":null,"symbolType":"stroke","symbolSize":81,"symbolStrokeWidth":2.5,"labelFont":"Roboto","labelFontSize":12,"labelColor":"#444444","labelLimit":0,"columnPadding":0,"labelOffset":3,
    "labelExpr":"datum.value == 'a' ? 'Income Approach, Personal Income, Total, AR, USD [c.o.p. 1 year]' : 'Expenditure Approach, Personal Consumption Expenditures, Total, AR, USD [c.o.p. 1 year]'"}}
 }},
{"transform":[{"filter":"datum.s == 'a'"}],
 "mark":{"type":"line","strokeWidth":1.5},
 "encoding":{"color":{"field":"s","type":"nominal"}}},
{"transform":[{"filter":"datum.s == 'c'"}],
 "mark":{"type":"line","strokeWidth":1.5},
 "encoding":{"color":{"field":"s","type":"nominal"},
  "opacity":{"field":"s","type":"nominal","scale":{"domain":["c"],"range":[1]},
   "legend":{"orient":"none","legendX":-10,"legendY":484,"direction":"horizontal","title":null,"symbolType":"stroke","symbolSize":81,"symbolStrokeWidth":2.5,"symbolStrokeColor":"#111111","labelFont":"Roboto","labelFontSize":12,"labelColor":"#444444","labelLimit":0,"labelOffset":3,
    "labelExpr":"'Personal Consumption Expenditures, Total Price Index [c.o.p. 1 year]'"}}}},
{"transform":[{"filter":"datum.t > 2019.8"}],
 "mark":{"type":"point","shape":"M-1,0L-0.52,-0.31L-0.52,-0.55L1,-0.55L1,0.55L-0.52,0.55L-0.52,0.31Z","size":841,"filled":true,"fill":"white","opacity":1,"strokeWidth":1,"yOffset":{"expr":"datum.s == 'a' ? -1 : datum.s == 'b' ? 4 : 0"}},
 "encoding":{"x":{"datum":2022.11},
  "stroke":{"field":"s","type":"nominal","scale":{"domain":["a","b","c"],"range":["#5a3cc8","#5aaaff","#333333"]},"legend":null}}},
{"transform":[{"filter":"datum.t > 2019.8"}],
 "mark":{"type":"text","font":"Roboto","fontSize":9,"align":"center","baseline":"middle","yOffset":{"expr":"datum.s == 'a' ? -1 : datum.s == 'b' ? 4 : 0"}},
 "encoding":{"x":{"datum":2022.33},
  "text":{"field":"v","type":"quantitative","format":".2f"},
  "fill":{"field":"s","type":"nominal","scale":{"domain":["a","b","c"],"range":["#4a26b8","#3d9cff","#111111"]},"legend":null}}}
]
}
